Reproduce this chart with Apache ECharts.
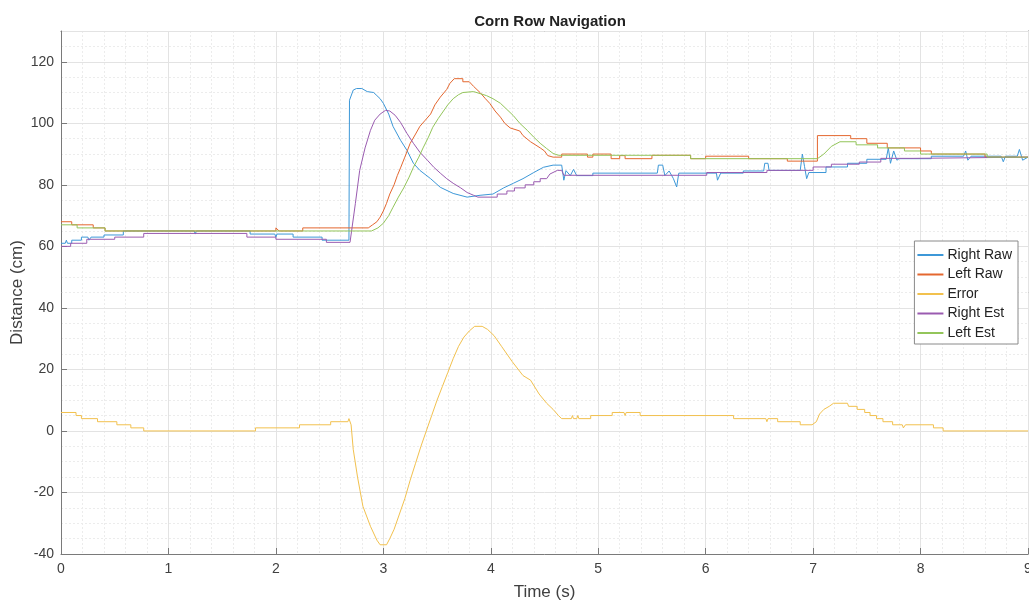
<!DOCTYPE html>
<html lang="en">
<head>
    <meta charset="UTF-8">
    <title>Corn Row Navigation</title>
    <script src="https://cdn.jsdelivr.net/npm/echarts@6/dist/echarts.min.js"></script>
    <style>
        html, body { margin: 0; padding: 0; background: #fff; }
    </style>
</head>
<body>
    <div id="main" style="width: 1029px; height: 603px;"></div>

    <script type="text/javascript">
        // legend names, in plot order
        const seriesNames = ['Right Raw', 'Left Raw', 'Error', 'Right Est', 'Left Est'];
        const seriesColors = ['#3d98d8', '#e4672f', '#f2c14e', '#9a5bb0', '#93c55a'];

        // [time (s), distance (cm)]
        const rightRaw = [
            [0, 61], [0.04, 61], [0.05, 62], [0.06, 61], [0.1, 61], [0.1, 62], [0.19, 62], [0.19, 63],
            [0.25, 63], [0.26, 62], [0.28, 63], [0.4, 63], [0.4, 63.7], [0.58, 63.7], [0.58, 65],
            [1.24, 65], [1.25, 64], [1.26, 65], [1.76, 65], [1.76, 64], [1.99, 64], [2.0, 63], [2.01, 64],
            [2.16, 64], [2.16, 63], [2.43, 63], [2.43, 62], [2.68, 62], [2.685, 107.5], [2.72, 110.8],
            [2.75, 111.3], [2.8, 111.3], [2.85, 110.3], [2.91, 110], [2.94, 109], [2.97, 108], [3.0, 106.5],
            [3.05, 103], [3.09, 99], [3.16, 94.5], [3.22, 91.2], [3.28, 87], [3.34, 84.7], [3.44, 82],
            [3.53, 79.2], [3.65, 77.2], [3.78, 76], [3.9, 76.6], [4.02, 77], [4.12, 79], [4.21, 80.5],
            [4.3, 82], [4.4, 84], [4.49, 85.7], [4.58, 86.4], [4.66, 86.4], [4.68, 81.5], [4.7, 84.6],
            [4.74, 83], [4.77, 85], [4.8, 83], [4.95, 83], [4.95, 83.8], [5.55, 83.8], [5.56, 86.4],
            [5.6, 86.4], [5.62, 83], [5.66, 84.5], [5.7, 82], [5.73, 79.3], [5.75, 83.8], [6.1, 83.8],
            [6.11, 81.5], [6.14, 83.8], [6.35, 83.8], [6.35, 84.5], [6.54, 84.5], [6.55, 87], [6.58, 87],
            [6.59, 84.7], [6.88, 84.7], [6.9, 90], [6.92, 86], [6.94, 82], [6.96, 84], [7.12, 84],
            [7.12, 85.8], [7.32, 85.8], [7.32, 87], [7.5, 87], [7.5, 88.3], [7.68, 88.3], [7.7, 92],
            [7.72, 87], [7.75, 91], [7.78, 88], [7.8, 88.5], [8.1, 88.5], [8.1, 89.3], [8.4, 89.3],
            [8.42, 91], [8.44, 88], [8.47, 89.3], [8.75, 89.3], [8.77, 87.5], [8.79, 89.3], [8.9, 89.3],
            [8.92, 91.5], [8.95, 88], [9, 89]
        ];
        const leftRaw = [
            [0, 68], [0.1, 68], [0.1, 67], [0.3, 67], [0.3, 66], [0.41, 66], [0.41, 65], [1.0, 65],
            [1.0, 65.6], [1.1, 65], [1.5, 65], [1.5, 65.6], [1.6, 65], [2.0, 65], [2.0, 66], [2.03, 65],
            [2.25, 65], [2.25, 66], [2.86, 66], [2.9, 67], [2.94, 68], [2.97, 69.5], [3.0, 71.5],
            [3.03, 74], [3.06, 77], [3.1, 80], [3.13, 83], [3.16, 85.5], [3.2, 89], [3.25, 93.5],
            [3.3, 96.5], [3.34, 99], [3.39, 101], [3.44, 103], [3.48, 106], [3.53, 108.5], [3.59, 111],
            [3.62, 113], [3.66, 114.5], [3.74, 114.5], [3.74, 113.5], [3.8, 113.5], [3.84, 112],
            [3.9, 110], [3.95, 108], [3.99, 106.5], [4.04, 104], [4.09, 102], [4.13, 100], [4.18, 98.5],
            [4.27, 97.5], [4.3, 96], [4.37, 94], [4.46, 92], [4.5, 91], [4.53, 89.5], [4.58, 89],
            [4.66, 89], [4.66, 90], [4.9, 90], [4.9, 89], [4.95, 89], [4.95, 90], [5.12, 90], [5.12, 88.5],
            [5.2, 88.5], [5.2, 89.5], [5.25, 89.5], [5.25, 88.5], [5.5, 88.5], [5.5, 89.6], [5.86, 89.6],
            [5.86, 88.5], [6.0, 88.5], [6.0, 89.3], [6.4, 89.3], [6.4, 88.5], [6.76, 88.5], [6.76, 87.7],
            [7.04, 87.7], [7.04, 96], [7.35, 96], [7.35, 95], [7.5, 95], [7.5, 93.5], [7.69, 93.5],
            [7.69, 92], [8.0, 92], [8.0, 91], [8.1, 91], [8.1, 90], [8.6, 90], [8.6, 89], [9, 89]
        ];
        const errorData = [
            [0, 6], [0.14, 6], [0.14, 5], [0.19, 5], [0.19, 4], [0.34, 4], [0.34, 3], [0.52, 3], [0.52, 2],
            [0.65, 2], [0.65, 1], [0.77, 1], [0.77, 0], [1.81, 0], [1.81, 1], [2.22, 1], [2.22, 2],
            [2.51, 2], [2.51, 3], [2.67, 3], [2.68, 4], [2.7, 2], [2.72, -6], [2.76, -15], [2.81, -24.5],
            [2.88, -31], [2.94, -35.5], [2.97, -37], [3.03, -37], [3.06, -35], [3.1, -32], [3.15, -27],
            [3.2, -22], [3.25, -16], [3.3, -10.5], [3.35, -5], [3.4, 0], [3.45, 5], [3.5, 10],
            [3.55, 14.5], [3.6, 19], [3.65, 23.5], [3.7, 27.5], [3.75, 30.5], [3.8, 32.5], [3.85, 34],
            [3.92, 34], [3.97, 33], [4.03, 31], [4.1, 27.5], [4.2, 22.5], [4.3, 18], [4.37, 16.5],
            [4.45, 12], [4.52, 9], [4.58, 7], [4.63, 5], [4.66, 4], [4.75, 4], [4.76, 5], [4.77, 4],
            [4.8, 4], [4.81, 5], [4.82, 4], [4.93, 4], [4.93, 5], [5.13, 5], [5.13, 6], [5.24, 6],
            [5.25, 5], [5.26, 6], [5.39, 6], [5.39, 5], [6.26, 5], [6.26, 4], [6.56, 4], [6.57, 3],
            [6.58, 4], [6.67, 4], [6.67, 3], [6.88, 3], [6.88, 2], [6.99, 2], [7.03, 3], [7.06, 5.5],
            [7.1, 7], [7.15, 8], [7.19, 9], [7.32, 9], [7.33, 8], [7.41, 8], [7.41, 7], [7.48, 7],
            [7.48, 6], [7.53, 6], [7.53, 5], [7.59, 5], [7.59, 4], [7.65, 4], [7.65, 3], [7.74, 3],
            [7.74, 2], [7.83, 2], [7.84, 1], [7.86, 2], [8.12, 2], [8.12, 1], [8.21, 1], [8.21, 0], [9, 0]
        ];
        const rightEst = [
            [0, 60], [0.09, 60], [0.09, 61], [0.24, 61], [0.24, 62.3], [0.5, 62.3], [0.5, 63], [0.77, 63],
            [0.77, 64.2], [1.73, 64.2], [1.73, 63], [2.0, 63], [2.0, 62.3], [2.47, 62.3], [2.47, 61.3],
            [2.69, 61.3], [2.74, 74], [2.78, 84.7], [2.83, 92], [2.88, 97.7], [2.92, 101], [2.97, 103],
            [3.02, 104.2], [3.06, 104], [3.11, 102.6], [3.16, 100.3], [3.22, 96.7], [3.28, 93.5],
            [3.34, 90.6], [3.41, 88], [3.47, 85.7], [3.53, 83.8], [3.59, 82], [3.65, 80.5], [3.72, 79],
            [3.78, 77.5], [3.84, 76.6], [3.88, 76], [4.06, 76], [4.06, 77], [4.15, 77], [4.15, 78],
            [4.22, 78], [4.22, 79], [4.32, 79], [4.32, 80], [4.4, 80], [4.4, 81], [4.46, 81], [4.46, 82],
            [4.52, 82], [4.55, 83.5], [4.62, 84.7], [4.66, 84.7], [4.68, 83.1], [6.01, 83.1], [6.01, 84],
            [6.57, 84], [6.57, 84.7], [7.0, 84.7], [7.0, 85.8], [7.17, 85.8], [7.17, 86.7], [7.43, 86.7],
            [7.43, 87.4], [7.63, 87.4], [7.63, 88.6], [7.93, 88.6], [7.93, 89], [9, 89]
        ];
        const leftEst = [
            [0, 67], [0.15, 67], [0.15, 66], [0.41, 66], [0.41, 65], [2.89, 65], [2.95, 66], [3.0, 67.5],
            [3.05, 70], [3.09, 72.7], [3.14, 76], [3.19, 79], [3.24, 82.5], [3.28, 85.7], [3.33, 89],
            [3.37, 92], [3.42, 95.5], [3.46, 98.7], [3.51, 101.5], [3.56, 104], [3.6, 106], [3.65, 108],
            [3.7, 109.3], [3.74, 110], [3.84, 110.3], [3.96, 109], [4.02, 108], [4.09, 106.5],
            [4.15, 104.5], [4.21, 102.5], [4.27, 100], [4.34, 97.7], [4.4, 95.5], [4.46, 93.5],
            [4.52, 91.8], [4.58, 90.2], [4.63, 89.6], [5.86, 89.6], [5.86, 88.5], [7.04, 88.5],
            [7.1, 90], [7.17, 92.5], [7.25, 94], [7.4, 94], [7.4, 93], [7.6, 93], [7.6, 92], [7.85, 92],
            [7.85, 91], [8.0, 91], [8.0, 90], [8.62, 90], [8.62, 89], [9, 89]
        ];
        const seriesData = [rightRaw, leftRaw, errorData, rightEst, leftEst];

        const font = 'Liberation Sans, Arial, sans-serif';
        const axisGray = '#7a7a7a';
        const textGray = '#404040';

        let myChart = echarts.init(document.getElementById('main'));

        let options = {
            animation: false,
            backgroundColor: '#fff',
            title: {
                text: 'Corn Row Navigation',
                left: 545,
                textAlign: 'center',
                top: 9,
                textStyle: { fontFamily: font, fontSize: 15, fontWeight: 'bold', color: '#222' }
            },
            legend: {
                data: seriesNames,
                orient: 'vertical',
                right: 11,
                top: 241,
                icon: 'rect',
                itemWidth: 26,
                itemHeight: 2,
                itemGap: 5.5,
                padding: [7, 6, 4, 3],
                backgroundColor: '#fff',
                borderColor: '#8a8a8a',
                borderWidth: 1,
                textStyle: { fontFamily: font, fontSize: 14, color: '#222', padding: [0, 0, 0, -1] }
            },
            grid: { left: 61, right: 1, top: 31, bottom: 49, containLabel: false, outerBoundsMode: 'none' },
            xAxis: [{
                type: 'value', min: 0, max: 9, interval: 1,
                name: 'Time (s)', nameLocation: 'middle', nameGap: 30,
                nameTextStyle: { fontFamily: font, fontSize: 17, color: textGray },
                axisLine: { onZero: false, lineStyle: { color: axisGray } },
                axisTick: { inside: true, length: 6, lineStyle: { color: axisGray } },
                axisLabel: { fontFamily: font, fontSize: 14, color: textGray, margin: 8 },
                splitLine: { lineStyle: { color: '#e3e3e3' } },
                z: 3
            }, {
                // minor grid
                type: 'value', min: 0, max: 9, interval: 0.2, position: 'bottom',
                axisLine: { show: false, onZero: false }, axisTick: { show: false }, axisLabel: { show: false },
                splitLine: { lineStyle: { color: '#ececec', type: [2, 2] } }
            }, {
                // box top edge
                type: 'value', min: 0, max: 9, interval: 1, position: 'top',
                axisLine: { onZero: false, lineStyle: { color: axisGray } },
                axisTick: { inside: true, length: 6, lineStyle: { color: axisGray } },
                axisLabel: { show: false }, splitLine: { show: false }
            }],
            yAxis: [{
                type: 'value', min: -40, max: 130, interval: 20,
                name: 'Distance (cm)', nameLocation: 'middle', nameGap: 35, nameMoveOverlap: false,
                nameTextStyle: { fontFamily: font, fontSize: 17, color: textGray },
                axisLine: { show: true, onZero: false, lineStyle: { color: axisGray } },
                axisTick: { show: true, inside: true, length: 6, lineStyle: { color: axisGray } },
                axisLabel: { fontFamily: font, fontSize: 14, color: textGray, margin: 7, showMaxLabel: false },
                splitLine: { lineStyle: { color: '#e3e3e3' } },
                z: 3
            }, {
                // minor grid
                type: 'value', min: -40, max: 130, interval: 5, position: 'left',
                axisLine: { show: false, onZero: false }, axisTick: { show: false }, axisLabel: { show: false },
                splitLine: { lineStyle: { color: '#ececec', type: [2, 2] } }
            }, {
                // box right edge
                type: 'value', min: -40, max: 130, interval: 20, position: 'right',
                axisLine: { show: true, onZero: false, lineStyle: { color: axisGray } },
                axisTick: { show: true, inside: true, length: 6, lineStyle: { color: axisGray } },
                axisLabel: { show: false }, splitLine: { show: false }
            }],
            series: seriesNames.map((name, i) => ({
                name: name,
                type: 'line',
                xAxisIndex: 0,
                yAxisIndex: 0,
                data: seriesData[i],
                showSymbol: false,
                symbol: 'none',
                color: seriesColors[i],
                lineStyle: { width: 1, color: seriesColors[i] },
                z: 5
            }))
        };

        myChart.setOption(options);

        window.addEventListener('resize', () => {
            myChart.resize();
        });
    </script>
</body>
</html>
